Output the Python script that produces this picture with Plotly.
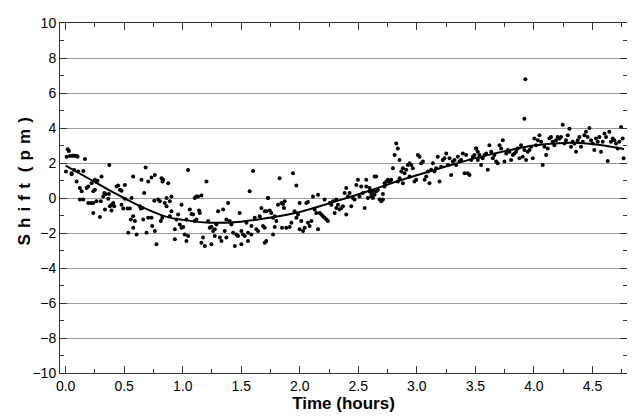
import plotly.graph_objects as go

# Scatter data (time in hours, shift in pm)
time_h = [
 0.017,0.028,0.009,0.037,0.057,0.074,0.094,0.102,0.165,0.003,0.051,0.074,0.108,0.151,0.051,0.094,0.122,0.137,0.179,0.193,
 0.222,0.250,0.264,0.273,0.307,0.236,0.250,0.122,0.151,0.193,0.216,0.236,0.264,0.236,0.293,0.301,0.321,0.330,0.344,0.364,
 0.370,0.373,0.336,0.378,0.392,0.407,0.392,0.415,0.435,0.449,0.464,0.478,0.506,0.478,0.492,0.506,0.529,0.549,0.563,0.577,
 0.634,0.643,0.654,0.671,0.683,0.648,0.705,0.734,0.762,0.757,0.791,0.819,0.557,0.577,0.592,0.535,0.577,0.606,0.663,0.691,
 0.705,0.734,0.739,0.762,0.776,0.813,0.825,
 0.833,0.827,0.876,0.805,0.847,0.862,0.890,0.862,0.904,0.904,0.890,0.933,0.933,0.961,0.947,0.975,0.990,1.004,0.990,1.018,
 1.032,1.046,1.032,1.046,1.061,1.075,1.089,1.103,1.117,1.132,1.160,1.140,1.146,1.117,1.103,1.174,1.160,1.189,1.203,1.217,
 1.231,1.245,1.245,1.260,1.274,1.288,1.274,1.302,1.317,1.331,1.345,1.359,1.373,1.388,1.373,1.402,1.416,1.430,1.445,1.459,
 1.473,1.487,1.501,1.501,1.516,1.530,1.544,1.558,1.572,1.558,1.587,1.601,1.587,1.615,1.629,1.644,1.658,1.672,1.686,1.700,
 1.714,1.729,1.714,
 1.729,1.701,1.743,1.757,1.772,1.786,1.800,1.786,1.772,1.701,1.814,1.828,1.843,1.857,1.871,1.865,1.848,1.885,1.914,1.928,
 1.942,1.971,1.956,1.971,1.985,1.999,2.013,1.999,2.028,2.042,2.056,2.070,2.070,2.084,2.099,2.113,2.127,2.141,2.156,2.156,
 2.170,2.184,2.198,2.212,2.212,2.227,2.241,2.255,2.269,2.284,2.298,2.312,2.312,2.326,2.340,2.355,2.369,2.383,2.397,2.397,
 2.411,2.426,2.440,2.454,2.468,2.483,2.497,2.511,2.525,2.539,2.554,2.568,2.568,2.582,2.596,2.611,2.625,2.639,
 2.596,2.611,2.625,2.639,2.653,2.653,2.667,2.682,2.696,2.710,2.710,2.724,2.724,2.739,2.753,2.767,2.781,2.796,2.810,2.824,
 2.838,2.852,2.838,2.852,2.867,2.881,2.881,2.895,2.909,2.923,2.938,2.952,2.938,2.966,2.980,2.995,3.009,3.023,3.037,3.052,
 3.066,3.080,3.094,3.108,3.123,3.137,3.151,3.165,3.179,3.194,3.208,3.222,3.236,3.251,3.265,3.279,3.293,3.307,3.322,3.336,
 3.350,3.364,3.379,3.393,3.407,3.421,3.435,3.450,3.464,3.478,3.492,3.507,3.521,3.535,
 3.506,3.521,3.535,3.549,3.563,3.578,3.592,3.606,3.620,3.635,3.649,3.663,3.677,3.691,3.706,3.720,3.734,3.748,3.763,3.777,
 3.791,3.805,3.819,3.834,3.848,3.862,3.876,3.890,3.905,3.919,3.933,3.919,3.927,3.947,3.962,3.976,3.990,4.004,4.018,4.033,
 4.047,4.061,4.075,4.090,4.104,4.118,4.132,4.146,4.161,4.175,4.189,4.203,4.218,4.232,4.246,4.260,4.274,4.289,4.303,4.317,
 4.331,4.346,4.360,4.374,4.388,4.402,4.417,4.431,4.445,4.459,4.474,4.488,4.502,4.516,4.530,4.545,4.559,4.573,4.587,4.602,
 4.616,4.630,4.644,4.658,4.673,4.687,4.701,4.715,4.730,4.744,4.758,4.766,
]
shift_pm = [
 2.79,2.68,2.36,2.40,2.42,2.42,2.40,2.36,2.23,1.51,1.42,1.60,1.51,1.55,1.36,0.94,0.57,0.38,0.57,0.66,
 0.85,1.04,0.91,0.98,1.23,0.38,0.47,-0.09,-0.09,-0.28,-0.28,-0.28,-0.19,-0.85,-1.09,-0.19,0.09,0.28,0.23,-0.04,
 0.23,1.89,-0.66,-0.47,-0.38,-0.28,-0.72,-0.47,0.66,0.72,0.47,0.42,0.75,-0.38,-0.60,-0.04,-0.60,-0.60,0.00,1.23,
 -0.47,-0.60,-0.57,0.28,1.75,1.04,0.94,1.17,1.32,-0.15,-0.09,1.13,-1.23,-1.04,-1.32,-1.98,-1.70,-2.08,-1.23,-1.98,
 -1.13,-1.13,-1.60,-1.89,-2.64,-1.32,-1.13,
 1.04,0.94,0.85,-0.19,-0.28,0.00,-0.19,-0.47,0.09,-0.75,-1.04,-1.79,-2.36,-0.94,-1.23,-1.51,-1.70,-1.66,-0.38,-2.08,
 -2.45,-2.17,-1.23,1.60,-0.66,-0.91,-0.94,0.00,0.09,0.09,0.15,-0.72,-0.85,-1.23,-1.32,-2.26,-2.55,-2.74,0.94,-1.32,
 -1.70,-1.66,-2.64,-1.89,-1.79,-1.51,-2.17,-0.75,-2.26,-2.45,-0.66,-1.89,-2.26,-0.28,-1.23,-1.32,-1.51,-1.98,-2.74,-2.08,
 -2.17,-0.85,-1.89,-2.64,-2.08,-2.17,-1.42,-1.98,0.38,-2.45,-2.08,1.55,-1.60,-1.13,-1.79,-1.89,-1.04,-0.57,-1.60,-1.70,
 -2.45,0.00,-0.75,
 0.00,-0.75,-0.72,-0.85,-1.13,-1.04,-1.32,-1.66,-2.08,-2.55,-0.38,1.13,-0.28,-0.34,-0.19,-0.57,-1.70,-1.70,-1.66,-1.42,
 1.42,0.72,-0.75,-1.13,-0.94,-0.28,-1.32,-1.79,-1.89,-1.70,-0.28,-0.23,-1.42,-1.60,-1.32,0.09,-0.66,-0.85,0.19,-1.79,
 -0.85,-0.94,-1.04,-0.09,-1.13,-1.23,-1.32,-0.28,-0.38,-0.19,-0.85,-0.57,-0.09,-0.38,-0.66,-0.57,-0.47,0.28,0.57,-0.94,
 0.09,0.28,-0.47,0.00,-0.09,0.75,1.04,0.09,0.66,0.28,-0.57,0.66,1.04,0.00,0.57,0.28,0.38,1.23,
 0.38,0.10,0.00,0.19,1.23,0.38,0.47,-0.09,-0.19,-0.09,0.23,0.85,0.66,0.95,1.04,0.95,1.04,1.70,2.46,3.12,
 2.83,2.17,0.95,1.13,1.51,1.70,0.85,1.42,1.61,1.89,1.98,1.89,1.23,1.70,0.95,1.04,2.46,2.36,1.98,2.08,
 1.04,1.23,1.51,0.85,1.61,1.98,1.51,1.70,2.36,0.95,1.79,2.17,2.27,2.55,1.89,2.27,1.32,2.08,2.17,1.89,
 2.36,2.08,2.17,2.55,1.42,2.46,1.42,1.32,2.17,2.36,2.46,2.83,2.17,2.46,
 2.83,2.64,2.36,1.89,2.27,2.46,2.55,1.61,3.02,2.64,2.27,2.46,2.08,1.98,3.02,2.83,3.30,2.08,2.55,2.74,
 2.64,2.17,2.46,2.55,2.64,2.83,2.27,3.02,2.36,2.74,2.17,4.53,6.79,2.64,2.74,2.93,2.27,3.40,3.02,3.30,
 3.59,3.21,1.89,2.93,2.46,2.83,3.40,3.49,3.21,3.02,3.30,3.49,3.40,3.49,4.19,3.11,3.30,3.59,3.96,2.93,
 3.21,3.11,2.64,3.30,3.49,2.93,3.21,3.59,3.78,3.49,4.00,3.30,3.11,2.74,3.40,3.21,3.49,2.64,3.21,3.68,
 3.49,2.11,3.78,3.21,3.40,3.30,3.11,2.83,3.21,4.06,3.40,2.27,
]

# Fitted curve
fit_time = [0.0, 0.2, 0.4, 0.6, 0.85, 1.0, 1.23, 1.5, 1.74, 2.0, 2.17, 2.4, 2.62, 2.9, 3.2, 3.5, 3.8, 4.0, 4.27, 4.5, 4.77]
fit_shift = [1.85, 1.1, 0.35, -0.35, -1.05, -1.25, -1.41, -1.35, -1.13, -0.8, -0.47, 0.0, 0.47, 1.1, 1.7, 2.28, 2.75, 3.0, 3.15, 3.08, 2.8]

x_ticks = [0.0, 0.5, 1.0, 1.5, 2.0, 2.5, 3.0, 3.5, 4.0, 4.5]
y_ticks = [-10, -8, -6, -4, -2, 0, 2, 4, 6, 8, 10]

fig = go.Figure()
fig.add_trace(go.Scatter(x=time_h, y=shift_pm, mode="markers",
                         marker=dict(color="black", size=4), showlegend=False))
fig.add_trace(go.Scatter(x=fit_time, y=fit_shift, mode="lines",
                         line=dict(color="black", width=2, shape="spline", smoothing=1.0),
                         showlegend=False))

font = "Liberation Sans, Arial, sans-serif"
fig.update_layout(
    width=627, height=409,
    margin=dict(l=52, r=7, t=12, b=44),
    paper_bgcolor="white", plot_bgcolor="white",
    font=dict(family=font, size=13, color="black"),
)
fig.update_xaxes(
    range=[-0.048, 4.795], tickvals=x_ticks, tickformat=".1f",
    ticks="inside", ticklen=7, tickwidth=1, tickcolor="#333",
    mirror="allticks", showline=True, linecolor="#333", linewidth=1,
    showgrid=False, zeroline=False,
    minor=dict(dtick=0.25, tick0=0, ticks="inside", ticklen=4, tickcolor="#333", showgrid=False),
    title=dict(text="<b>Time (hours)</b>", font=dict(size=17, family=font), standoff=2),
    tickfont=dict(size=14),
)
fig.update_yaxes(
    range=[-10, 10], tickvals=y_ticks,
    ticks="inside", ticklen=7, tickwidth=1, tickcolor="#333",
    mirror="allticks", showline=True, linecolor="#333", linewidth=1,
    showgrid=True, gridcolor="#9a9a9a", gridwidth=1, zeroline=False,
    minor=dict(dtick=1, tick0=0, ticks="inside", ticklen=4, tickcolor="#333", showgrid=False),
    tickfont=dict(size=14),
)

gap = "\u00a0\u200a"
ytitle = gap.join(["S", "h", "i", "f", "t", "\u00a0(", "p", "m", ")"])
fig.add_annotation(
    text="<b>" + ytitle + "</b>", textangle=-90,
    xref="paper", yref="paper", x=0, y=0.547,
    xanchor="center", yanchor="middle", xshift=-35, showarrow=False,
    font=dict(size=17, family=font, color="black"),
)

fig.write_html("out.html")
